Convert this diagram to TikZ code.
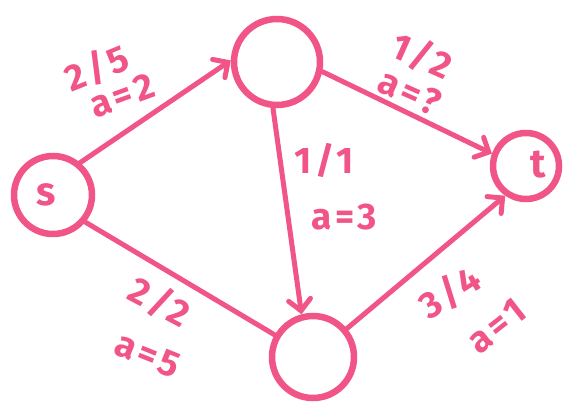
\documentclass[tikz,border=0pt]{standalone}
\usepackage{fontspec}
\setmainfont{Fira Sans}
\usetikzlibrary{arrows.meta}
\definecolor{pk}{RGB}{241,84,134}
\begin{document}
\begin{tikzpicture}[x=1pt,y=-1pt,
  vtx/.style={circle,draw=pk,line width=6.5pt,inner sep=0pt},
  edge/.style={draw=pk,line width=5pt,line cap=round},
  arr/.style={-{Straight Barb[length=11pt,width=22pt,line cap=round]}},
  lbl/.style={text=pk,font=\fontsize{37}{37}\selectfont\bfseries\addfontfeature{LetterSpace=10},inner sep=0pt},
  nlbl/.style={text=pk,font=\fontsize{40}{40}\selectfont\bfseries,inner sep=0pt}]
\useasboundingbox (0,0) rectangle (572,414);
\node[vtx,minimum size=78pt] (s) at (53,195) {};
\node[vtx,minimum size=86pt] (u) at (277,62) {};
\node[vtx,minimum size=82pt] (b) at (313,357) {};
\node[vtx,minimum size=66pt] (t) at (526,166) {};
\node[nlbl] (sl) at (46,195) {s};
\node[nlbl] (tl) at (538,165) {t};
\draw[edge,arr] (s.50) -- (u.178);
\draw[edge,arr] (u.-12) -- (t.160);
\draw[edge,arr] (u.-95) -- (b.105);
\draw[edge] (s.-40) -- (b.150);
\draw[edge,arr] (b.40) -- (t.-125);
\node[lbl,rotate=22] (e1f) at (97,68) {2/5};
\node[lbl,rotate=20] (e1a) at (122,96) {a=2};
\node[lbl,rotate=-24] (e2f) at (422,56) {1/2};
\node[lbl,rotate=-24] (e2a) at (410,92) {a=?};
\node[lbl] (e3f) at (324,160) {1/1};
\node[lbl] (e3a) at (344,217) {a=3};
\node[lbl,rotate=-28] (e4f) at (160,302) {2/2};
\node[lbl,rotate=-22] (e4a) at (148,355) {a=5};
\node[lbl,rotate=32] (e5f) at (450,292) {3/4};
\node[lbl,rotate=38] (e5a) at (497,326) {a=1};
\end{tikzpicture}
\end{document}
